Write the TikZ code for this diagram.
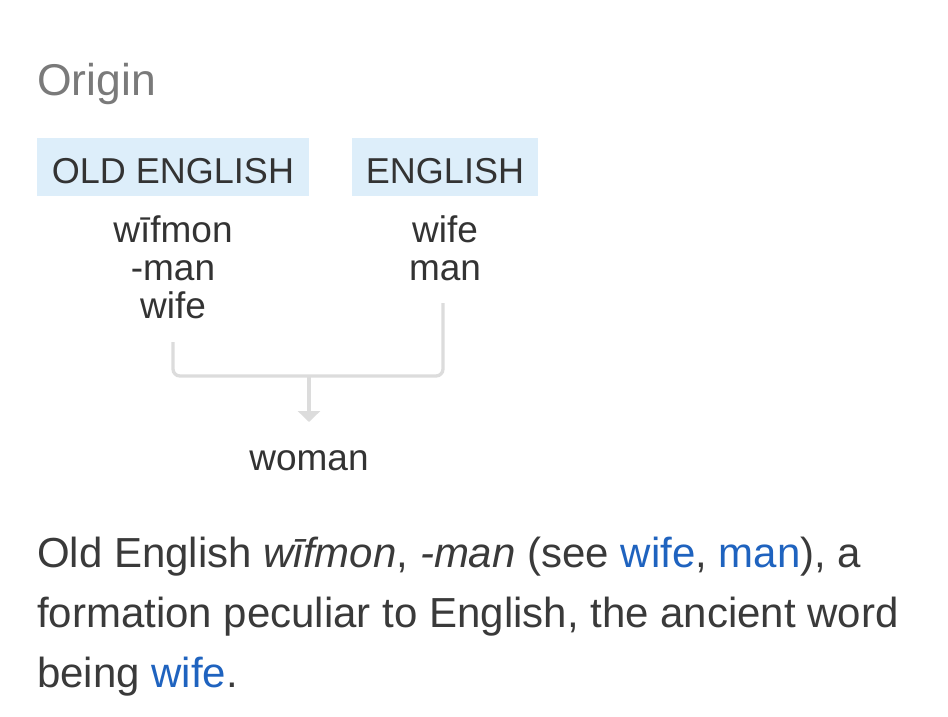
\documentclass[tikz,border=0pt]{standalone}
\usepackage{fontspec}
\setmainfont{Liberation Sans}
\usetikzlibrary{arrows.meta}
\definecolor{hdrbg}{HTML}{DDEEFA}
\definecolor{txt}{HTML}{333333}
\definecolor{para}{HTML}{3A3A3A}
\definecolor{origin}{HTML}{7A7A7A}
\definecolor{conn}{HTML}{DCDCDC}
\definecolor{link}{HTML}{1F63BF}
\tikzset{
  hdr/.style={fill=hdrbg, text=txt, inner sep=0pt, font=\fontsize{36}{36}\selectfont},
  word/.style={text=txt, inner sep=0pt, anchor=base, font=\fontsize{37}{37}\selectfont},
  paraline/.style={text=para, inner sep=0pt, anchor=base west, font=\fontsize{42}{42}\selectfont},
  connline/.style={draw=conn, line width=3.3pt, rounded corners=7pt},
}
\newcommand{\lnk}[1]{\textcolor{link}{#1}}
\begin{document}
\begin{tikzpicture}[x=1pt,y=-1pt]
\useasboundingbox[fill=white] (0,0) rectangle (948,716);
\node[text=origin, inner sep=0pt, anchor=base west, font=\fontsize{44.5}{44.5}\selectfont] (origin) at (37,95) {Origin};
% header boxes
\node[hdr, minimum width=272pt, minimum height=58pt] (oebox) at (173,167) {};
\node[text=txt, inner sep=0pt, anchor=base, font=\fontsize{36}{36}\selectfont] (oe) at (173,183) {OLD ENGLISH};
\node[hdr, minimum width=186pt, minimum height=58pt] (enbox) at (445,167) {};
\node[text=txt, inner sep=0pt, anchor=base, font=\fontsize{36}{36}\selectfont] (en) at (445,183) {ENGLISH};
% words
\node[word] (w1) at (173,242) {wīfmon};
\node[word] (w2) at (173,280) {-man};
\node[word] (w3) at (173,318) {wife};
\node[word] (e1) at (445,242) {wife};
\node[word] (e2) at (445,280) {man};
\node[word] (res) at (309,470) {woman};
% connectors
\coordinate (lt) at (173,342);
\coordinate (lb) at (173,376);
\coordinate (rb) at (443,376);
\coordinate (rt) at (443,303);
\coordinate (mid) at (309,376);
\coordinate (tip) at (309,422);
\draw[connline] (lt) -- (lb) -- (rb) -- (rt);
\draw[draw=conn, line width=3.3pt, -{Triangle[width=22pt,length=11pt]}] (mid) -- (tip);
% paragraph
\node[paraline] (p1) at (37,567) {Old English \textit{wīfmon}, \textit{-man} (see \lnk{wife}, \lnk{man}), a};
\node[paraline] (p2) at (37,627) {formation peculiar to English, the ancient word};
\node[paraline] (p3) at (37,687) {being \lnk{wife}.};
\end{tikzpicture}
\end{document}
